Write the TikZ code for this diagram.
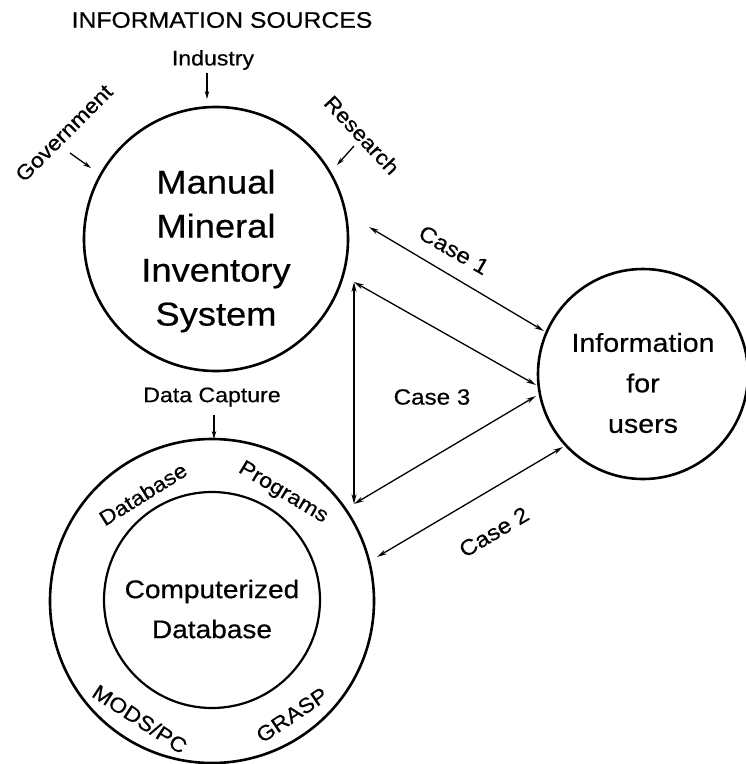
\documentclass[tikz,border=0pt]{standalone}
\usepackage{fontspec}
\setmainfont{Liberation Sans}[FakeStretch=1.1,FakeBold=0.5]
\usetikzlibrary{arrows.meta}

\begin{document}
\begin{tikzpicture}[x=1pt,y=-1pt,
  ring/.style={draw,circle,line width=2.6pt,inner sep=0pt},
  link/.style={line width=1.3pt,{Stealth[length=10pt,width=5pt]}-{Stealth[length=10pt,width=5pt]}},
  feed/.style={line width=1.3pt,-{Stealth[length=8pt,width=4.5pt]}},
  lbl/.style={font=\fontsize{21}{25}\selectfont,inner sep=1pt}]
\useasboundingbox (0,0) rectangle (746,764);

% circles
\node[ring,minimum size=264pt] (manual) at (216,239) {};
\node[ring,minimum size=210pt] (users) at (643,374) {};
\node[ring,minimum size=324pt] (outer) at (212,601) {};
\node[ring,line width=2.2pt,minimum size=216pt] (inner) at (212,600) {};

% texts in circles
\node[align=center,font=\fontsize{33}{44}\selectfont] (manualtxt) at (216,251) {Manual\\Mineral\\Inventory\\System};
\node[align=center,font=\fontsize{26}{40.5}\selectfont] (userstxt) at (643,383) {Information\\for\\users};
\node[align=center,font=\fontsize{25.5}{40}\selectfont] (innertxt) at (212,609) {Computerized\\Database};

% sources
\node[lbl,font=\fontsize{22.5}{26}\selectfont] (sources) at (222,20) {INFORMATION SOURCES};
\node[lbl] (industry) at (213,60) {Industry};
\node[lbl,rotate=45] (gov) at (64,133) {Government};
\node[lbl,rotate=-47] (research) at (362,135) {Research};
\node[lbl] (capture) at (212,397) {Data Capture};

\coordinate (indtail) at (207,73);
\coordinate (indtip) at (207,99);
\coordinate (govtail) at (70,153);
\coordinate (govtip) at (91,168);
\coordinate (restail) at (354,146);
\coordinate (restip) at (337,165);
\coordinate (captail) at (214,415);
\coordinate (captip) at (214,439);
\draw[feed] (indtail) -- (indtip);
\draw[feed] (govtail) -- (govtip);
\draw[feed] (restail) -- (restip);
\draw[feed] (captail) -- (captip);

% ring labels
\node[lbl,rotate=32] (dbring) at (143,494) {Database};
\node[lbl,rotate=-31] (progring) at (283,493) {Programs};
\node[lbl,rotate=-33] (modsring) at (140,719) {MODS/PC};
\node[lbl,rotate=34] (graspring) at (292,715) {GRASP};

% cases
\coordinate (c1a) at (369,227);
\coordinate (c1b) at (544,331);
\coordinate (c3top) at (354,282);
\coordinate (c3bot) at (354,504);
\coordinate (c3r1) at (536,385);
\coordinate (c3r2) at (536,396);
\coordinate (c2a) at (377,557);
\coordinate (c2b) at (563,447);
\draw[link] (c1a) -- (c1b);
\draw[link] (c3top) -- (c3bot);
\draw[link] (c3top) -- (c3r1);
\draw[link] (c3bot) -- (c3r2);
\draw[link] (c2a) -- (c2b);

\node[lbl,font=\fontsize{22}{26}\selectfont,rotate=-30] (case1) at (454,250) {Case 1};
\node[lbl,font=\fontsize{22}{26}\selectfont] (case3) at (432,397) {Case 3};
\node[lbl,font=\fontsize{22}{26}\selectfont,rotate=31] (case2) at (494,532) {Case 2};
\end{tikzpicture}
\end{document}
